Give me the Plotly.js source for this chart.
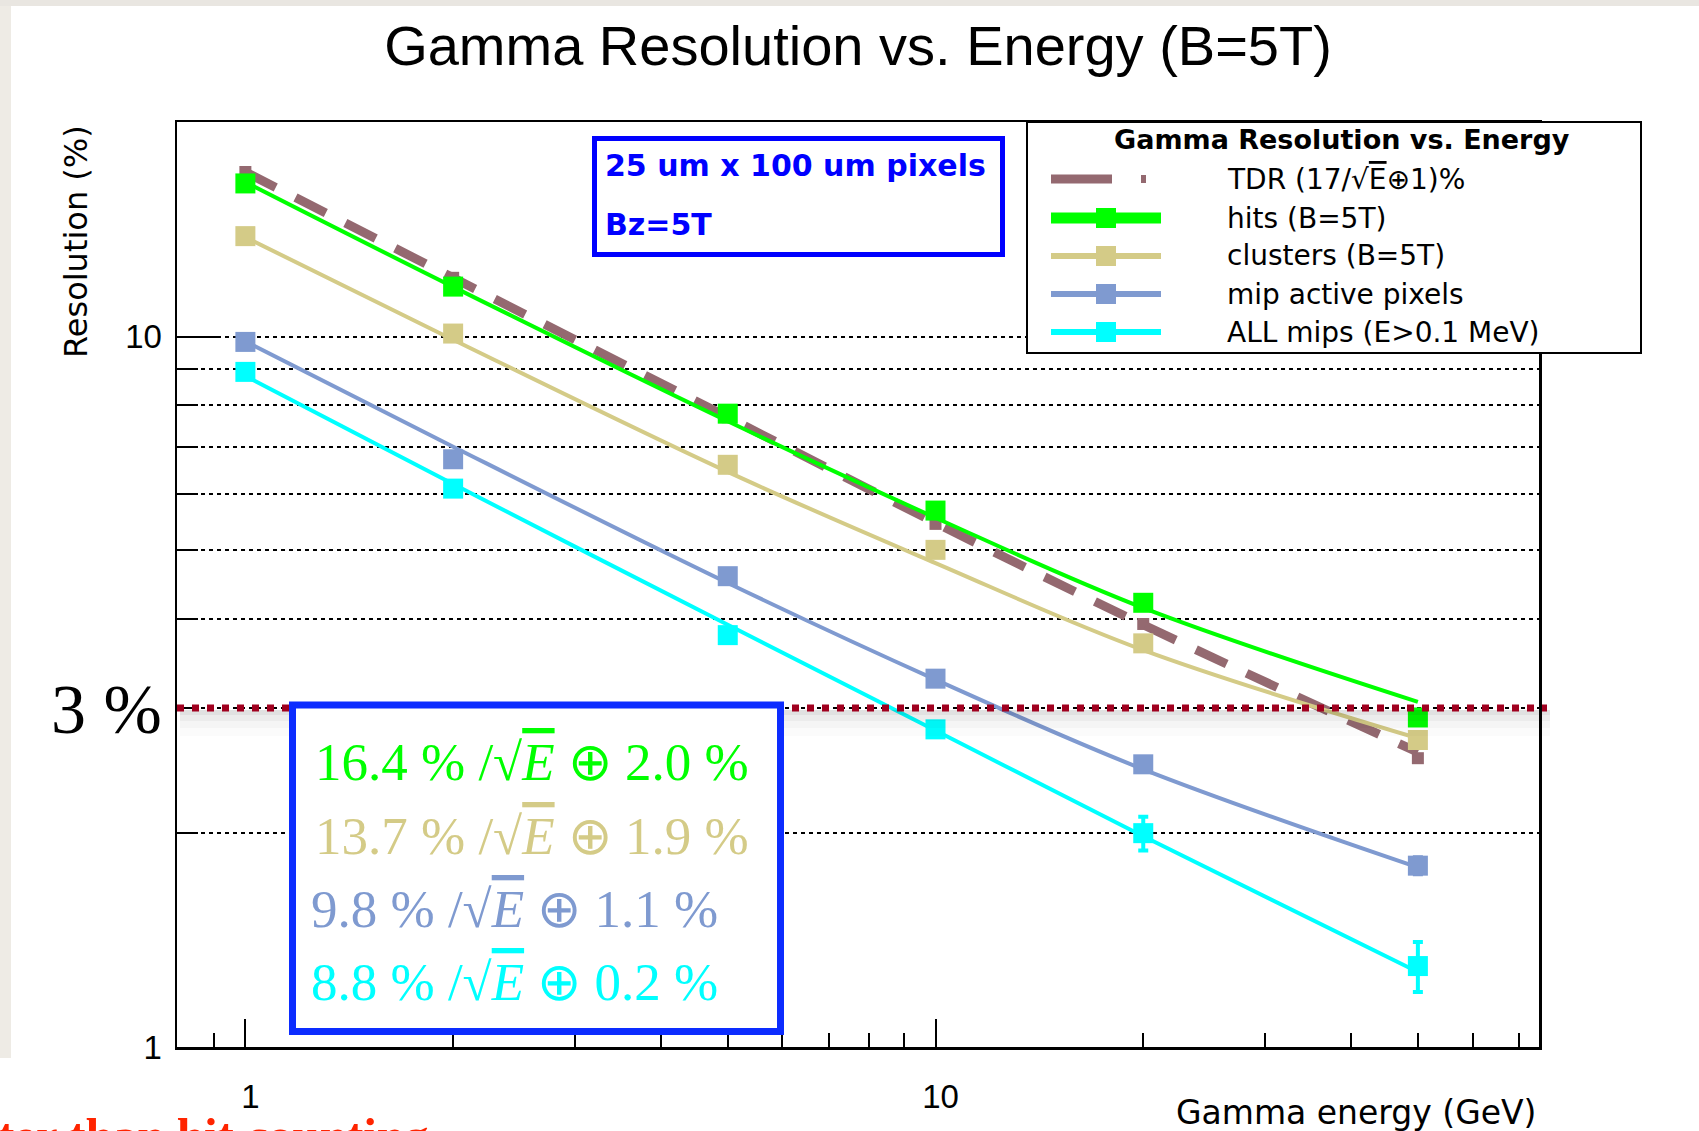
<!DOCTYPE html>
<html><head><meta charset="utf-8">
<script src="https://cdn.plot.ly/plotly-3.0.1.min.js"></script>
<style>html,body{margin:0;padding:0;background:#fff}#chart{width:1699px;height:1131px}</style>
</head><body><div id="chart"></div>
<script>
// ---------------- data ----------------
const energies = [1, 2, 5, 10, 20, 50];

const tdrCurve      = [17.05, 12.1, 7.7, 5.47, 3.93, 2.6];
const tdrPoints     = [17.05, 12.1, 7.7, 5.45, 3.94, 2.55];

const hitsPoints    = [16.43, 11.76, 7.79, 5.69, 4.22, 2.91];
const hitsErr       = [0.04, 0.04, 0.04, 0.04, 0.05, 0.05];
const hitsCurve     = [16.5, 11.75, 7.6, 5.56, 4.15, 3.06];

const clusterPoints = [13.85, 10.1, 6.6, 5.01, 3.70, 2.705];
const clusterErr    = [0.04, 0.04, 0.04, 0.04, 0.05, 0.05];
const clusterCurve  = [13.8, 9.9, 6.45, 4.8, 3.62, 2.72];

const mipPoints     = [9.83, 6.72, 4.60, 3.30, 2.50, 1.80];
const mipErr        = [0.03, 0.03, 0.03, 0.04, 0.04, 0.05];
const mipCurve      = [9.85, 7.0, 4.5, 3.29, 2.46, 1.79];

const allPoints     = [8.92, 6.11, 3.80, 2.80, 2.00, 1.30];
const allErr        = [0.04, 0.04, 0.04, 0.05, 0.11, 0.105];
const allCurve      = [8.8, 6.2, 3.93, 2.79, 1.98, 1.275];

const legendLabels = ['TDR (17/√<span style="text-decoration:overline">E</span>⊕1)%', 'hits (B=5T)', 'clusters (B=5T)', 'mip active pixels', 'ALL mips (E>0.1 MeV)'];
const fitStoch = ['16.4', '13.7', '9.8', '8.8'];
const fitConst = ['2.0', '1.9', '1.1', '0.2'];

const xTickVals = [1, 10];
const xTickText = ['1', '10'];
const xMinorVals = [0.9, 2, 3, 4, 5, 6, 7, 8, 9, 20, 30, 40, 50, 60, 70];
const yTickVals = [1, 10];
const yTickText = ['1', '10'];
const yMinorVals = [2, 3, 4, 5, 6, 7, 8, 9];
const thresholdValue = 3;

// ---------------- styles ----------------
const C_TDR = '#946970', C_HITS = '#00ff00', C_CLU = '#d4cb87', C_MIP = '#7f9ad0', C_ALL = '#00ffff';
const SANS = 'DejaVu Sans', SERIF = 'Liberation Serif';

// pixel -> paper helpers (plot area)
const L = 177, R = 1539, T = 122, B = 1047, W = R - L, H = B - T;
const px = x => (x - L) / W;
const py = y => (B - y) / H;

function curve(y, color, width, dash) {
  return {x: energies, y: y, type: 'scatter', mode: 'lines', showlegend: false, hoverinfo: 'skip',
          line: {color: color, width: width, shape: 'spline', dash: dash || 'solid'}};
}
function pts(y, err, color, size) {
  return {x: energies, y: y, type: 'scatter', mode: 'markers', showlegend: false,
          marker: {symbol: 'square', size: size, color: color, line: {width: 0}},
          error_y: err ? {type: 'data', array: err, visible: true, color: color, thickness: 4, width: 5} : undefined};
}

const traces = [
  pts(tdrPoints, null, C_TDR, 12),
  curve(tdrCurve, C_TDR, 9, '34px,22px'),
  curve(allCurve, C_ALL, 4),
  curve(mipCurve, C_MIP, 4),
  curve(clusterCurve, C_CLU, 4),
  curve(hitsCurve, C_HITS, 4),
  pts(allPoints, allErr, C_ALL, 20),
  pts(mipPoints, mipErr, C_MIP, 20),
  pts(clusterPoints, clusterErr, C_CLU, 20),
  pts(hitsPoints, hitsErr, C_HITS, 20)
];

const shapes = [];
const annotations = [];
function ann(o) { annotations.push(Object.assign({xref: 'paper', yref: 'paper', showarrow: false}, o)); }

// page margins (slide background)
shapes.push({type: 'rect', xref: 'paper', yref: 'paper', x0: px(0), x1: px(11), y0: py(1058), y1: py(0),
             fillcolor: '#eeebe5', line: {width: 0}, layer: 'below'});
shapes.push({type: 'rect', xref: 'paper', yref: 'paper', x0: px(0), x1: px(1699), y0: py(6), y1: py(0),
             fillcolor: '#e9e6e1', line: {width: 0}, layer: 'below'});

// 3% threshold line with soft shadow
[[710, 715, 0.045], [710, 721, 0.035], [710, 728, 0.025], [710, 736, 0.015]].forEach(s => {
  shapes.push({type: 'rect', xref: 'paper', yref: 'paper', x0: px(180), x1: px(1550), y0: py(s[1]), y1: py(s[0]),
               fillcolor: 'rgba(0,0,0,' + s[2] + ')', line: {width: 0}, layer: 'above'});
});
shapes.push({type: 'line', xref: 'paper', yref: 'y', x0: 0, x1: px(1547), y0: thresholdValue, y1: thresholdValue,
             line: {color: '#a0001f', width: 7, dash: '7px,8px'}, layer: 'above'});

// fit-result box
shapes.push({type: 'rect', xref: 'paper', yref: 'paper', x0: px(292.5), x1: px(780.5), y0: py(1031.5), y1: py(705),
             fillcolor: '#ffffff', line: {color: '#0c2cff', width: 7}, layer: 'above'});
const fitColors = [C_HITS, C_CLU, C_MIP, C_ALL];
const fitY = [762, 836, 909, 982];
const fitX = [313, 313, 309, 309];
fitStoch.forEach((s, i) => {
  ann({x: px(fitX[i]), y: py(fitY[i]), xanchor: 'left', yanchor: 'middle',
       text: s + ' % /√<span style="text-decoration:overline"><i>E</i></span> ⊕ ' + fitConst[i] + ' %',
       font: {family: SERIF, size: 53, color: fitColors[i]}});
});

// pixel info box
shapes.push({type: 'rect', xref: 'paper', yref: 'paper', x0: px(594.5), x1: px(1002.5), y0: py(254.5), y1: py(138.5),
             fillcolor: '#ffffff', line: {color: '#0000ff', width: 5}, layer: 'above'});
ann({x: px(603), y: py(166), xanchor: 'left', yanchor: 'middle', text: '<b>25 um x 100 um pixels</b>',
     font: {family: SANS, size: 30, color: '#0000ff'}});
ann({x: px(603), y: py(224), xanchor: 'left', yanchor: 'middle', text: '<b>Bz=5T</b>',
     font: {family: SANS, size: 30, color: '#0000ff'}});

// legend box
shapes.push({type: 'rect', xref: 'paper', yref: 'paper', x0: px(1027), x1: px(1641), y0: py(353), y1: py(122),
             fillcolor: '#ffffff', line: {color: '#000000', width: 2}, layer: 'above'});
ann({x: px(1342), y: py(139), xanchor: 'center', yanchor: 'middle', text: '<b>Gamma Resolution vs. Energy</b>',
     font: {family: SANS, size: 27, color: '#000'}});
const legY = [179, 218, 256, 294, 332];
const legColors = [C_TDR, C_HITS, C_CLU, C_MIP, C_ALL];
const legWidths = [9, 11, 6, 6, 6];
legendLabels.forEach((lab, i) => {
  ann({x: px(1225), y: py(legY[i]), xanchor: 'left', yanchor: 'middle', text: lab,
       font: {family: SANS, size: 28, color: '#000'}});
  if (i === 0) {
    shapes.push({type: 'line', xref: 'paper', yref: 'paper', x0: px(1051), x1: px(1112), y0: py(legY[i]), y1: py(legY[i]),
                 line: {color: C_TDR, width: 9}, layer: 'above'});
    shapes.push({type: 'rect', xref: 'paper', yref: 'paper', x0: px(1141), x1: px(1146), y0: py(legY[i] + 4), y1: py(legY[i] - 4),
                 fillcolor: C_TDR, line: {width: 0}, layer: 'above'});
  } else {
    shapes.push({type: 'line', xref: 'paper', yref: 'paper', x0: px(1051), x1: px(1161), y0: py(legY[i]), y1: py(legY[i]),
                 line: {color: legColors[i], width: legWidths[i]}, layer: 'above'});
    shapes.push({type: 'rect', xref: 'paper', yref: 'paper', x0: px(1096), x1: px(1116), y0: py(legY[i] + 10), y1: py(legY[i] - 10),
                 fillcolor: legColors[i], line: {width: 0}, layer: 'above'});
  }
});

// axis titles and side texts
ann({x: px(76), y: py(242), xanchor: 'center', yanchor: 'middle', textangle: -90, text: 'Resolution (%)',
     font: {family: SANS, size: 32, color: '#000'}});
ann({x: px(1538), y: py(1112), xanchor: 'right', yanchor: 'middle', text: 'Gamma energy (GeV)',
     font: {family: SANS, size: 33, color: '#000'}});
ann({x: px(164), y: py(709), xanchor: 'right', yanchor: 'middle', text: '3 %',
     font: {family: SERIF, size: 70, color: '#000'}});
ann({x: px(-4), y: py(1106), xanchor: 'left', yanchor: 'top', text: '<b>ter than hit counting</b>',
     font: {family: SERIF, size: 49, color: '#ff2400'}});

const layout = {
  width: 1699, height: 1131,
  margin: {l: L, r: 1699 - R, t: T, b: 1131 - B, pad: 0},
  paper_bgcolor: '#ffffff', plot_bgcolor: '#ffffff',
  showlegend: false,
  title: {text: 'Gamma Resolution vs. Energy (B=5T)', font: {family: 'Liberation Sans', size: 56, color: '#000'},
          x: 0.5, xref: 'paper', y: 1 - 45 / 1131, yref: 'container', yanchor: 'middle'},
  xaxis: {type: 'log', range: [Math.log10(0.796), Math.log10(74.9)], tickmode: 'array',
          tickvals: xTickVals, ticktext: xTickText, ticks: 'inside', ticklen: 28, tickwidth: 2, tickcolor: '#000',
          showline: true, linecolor: '#000', linewidth: 2.5, mirror: true, showgrid: false, zeroline: false,
          tickfont: {family: 'Liberation Sans', size: 33, color: '#000'}, ticklabelstandoff: 19, ticklabelshift: 5,
          minor: {tickmode: 'array', tickvals: xMinorVals, ticks: 'inside', ticklen: 14, tickwidth: 2, tickcolor: '#000', showgrid: false}},
  yaxis: {type: 'log', range: [0, Math.log10(20.05)], tickmode: 'array',
          tickvals: yTickVals, ticktext: yTickText, ticks: 'inside', ticklen: 41, tickwidth: 2, tickcolor: '#000',
          showline: true, linecolor: '#000', linewidth: 2.5, mirror: true, zeroline: false,
          showgrid: true, gridcolor: '#000', gridwidth: 2, griddash: '4px,4px',
          tickfont: {family: 'Liberation Sans', size: 33, color: '#000'}, ticklabelstandoff: 6,
          minor: {tickmode: 'array', tickvals: yMinorVals, ticks: 'inside', ticklen: 21, tickwidth: 2, tickcolor: '#000',
                  showgrid: true, gridcolor: '#000', gridwidth: 2, griddash: '4px,4px'}},
  shapes: shapes,
  annotations: annotations
};

Plotly.newPlot('chart', traces, layout, {displayModeBar: false, staticPlot: true});
</script>
</body></html>
